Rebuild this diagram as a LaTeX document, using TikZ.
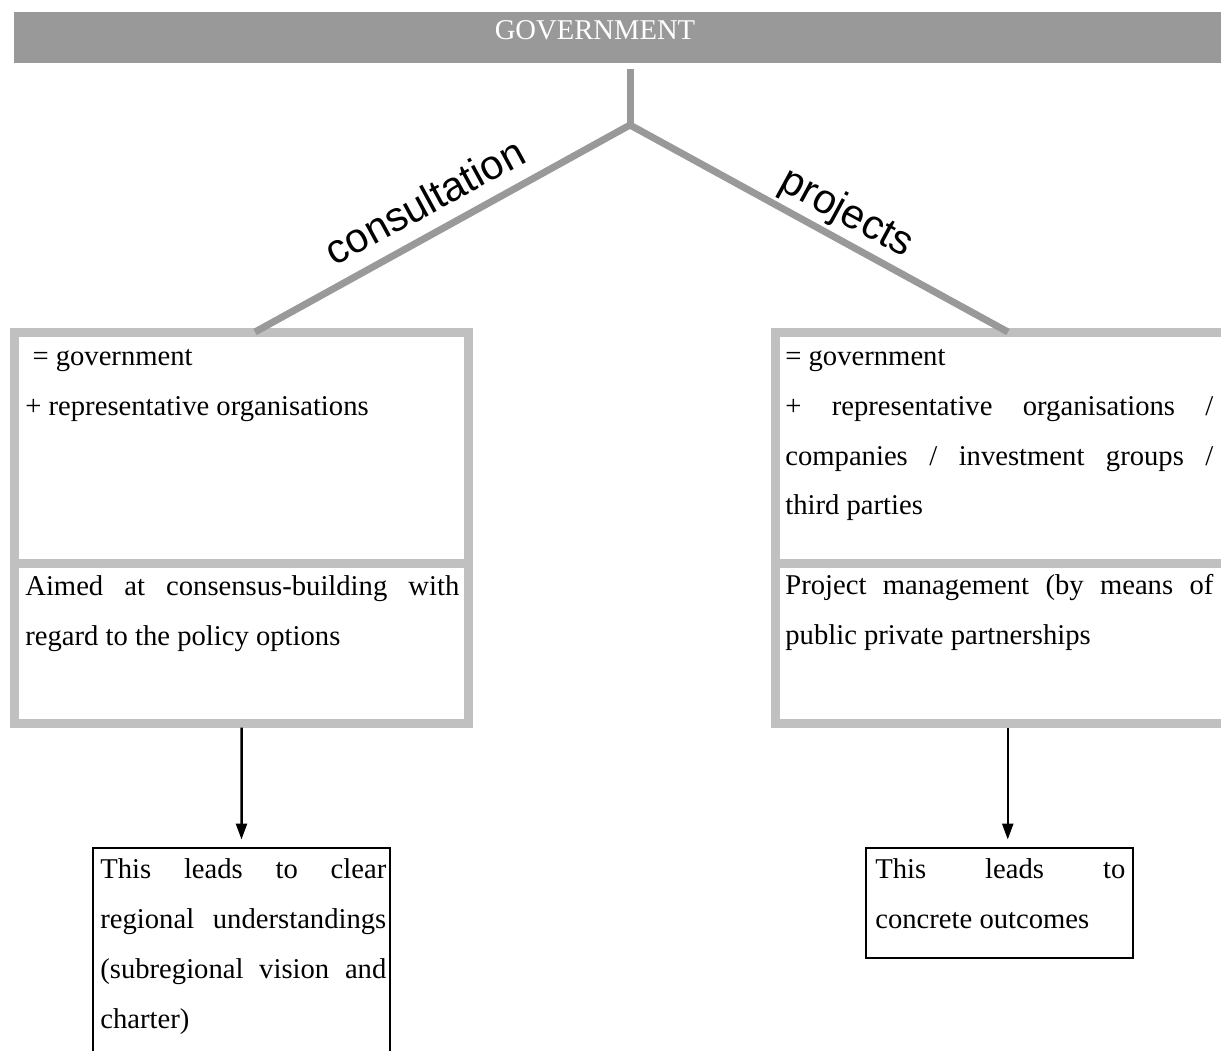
\documentclass[tikz,border=0pt]{standalone}
\usepackage{fontspec}
\setmainfont{Liberation Serif}
\newfontfamily\branchfont{Liberation Sans}
\usepackage{tikz}
\usetikzlibrary{positioning}
\usetikzlibrary{arrows.meta}
\usepackage{xcolor}
\definecolor{bargrey}{HTML}{999999}
\definecolor{framegrey}{HTML}{C0C0C0}
\newcommand{\boxfont}{\fontsize{16.3}{28.45}\selectfont\hyphenpenalty=10000\exhyphenpenalty=10000\tolerance=10000}

\begin{document}
\begin{tikzpicture}[node distance=0cm,
    stemline/.style={draw=bargrey, line width=0.14cm},
    framepart/.style={draw=framegrey, line width=0.18cm, rectangle, inner sep=0pt, outer sep=0pt, minimum width=9.08cm},
    boxtext/.style={anchor=base west, inner sep=0pt, align=justify, font=\boxfont},
    outbox/.style={draw, line width=0.05cm, rectangle, inner sep=0pt, outer sep=0pt},
    branchlabel/.style={anchor=base, inner sep=0pt, font=\branchfont\fontsize{23.5}{23.5}\selectfont},
    leadsto/.style={-{Triangle[length=0.32cm, width=0.22cm]}, line width=0.05cm, shorten <=0.09cm, shorten >=0.17cm}]
    \useasboundingbox (0,0) rectangle (24.42,-21);
    \clip (0,0) rectangle (24.42,-21);

    % Top bar
    \node (gov) [fill=bargrey, rectangle, anchor=north west, minimum width=24.4cm, minimum height=1.02cm, inner sep=0pt] at (0.28,-0.24) {};
    \node (govtext) [anchor=base, text=white, font=\boxfont] at (11.9,-0.79) {GOVERNMENT};

    % Consultation side
    \node (consone) [framepart, minimum height=4.62cm, anchor=north west] at (0.29,-6.64) {};
    \node (constwo) [framepart, minimum height=3.2cm, below=of consone] {};
    \node (consonetext) [boxtext, text width=8.68cm] at (0.5,-7.3) {\ = government\\+ representative organisations};
    \node (constwotext) [boxtext, text width=8.68cm] at (0.5,-11.9) {Aimed at consensus-building with\linebreak regard to the policy options};

    % Projects side
    \node (projone) [framepart, minimum width=9.29cm, minimum height=4.62cm, anchor=north west] at (15.51,-6.64) {};
    \node (projtwo) [framepart, minimum width=9.29cm, minimum height=3.2cm, below=of projone] {};
    \node (projonetext) [boxtext, text width=8.56cm] at (15.7,-7.3) {= government\\+ representative organisations /\linebreak companies / investment groups /\linebreak third parties};
    \node (projtwotext) [boxtext, text width=8.56cm] at (15.7,-11.88) {Project management (by means of\linebreak public private partnerships};

    % Branches from the bar
    \coordinate (fork) at (12.6,-2.5);
    \coordinate (consend) at (5.1,-6.64);
    \coordinate (projend) at (20.16,-6.64);
    \draw[stemline, shorten <=0.1cm] (gov.south -| fork) -- (fork);
    \draw[stemline] (consend) -- (fork) -- (projend);
    \node (conslabel) [branchlabel, rotate=28.6] at (8.63,-4.28) {consultation};
    \node (projlabel) [branchlabel, rotate=-28.5] at (16.82,-4.46) {projects};

    % Outcomes
    \node (consout) [outbox, anchor=north west, minimum width=5.94cm, minimum height=5cm] at (1.86,-16.96) {};
    \node (projout) [outbox, anchor=north west, minimum width=5.34cm, minimum height=2.2cm] at (17.32,-16.96) {};
    \node (consouttext) [boxtext, text width=5.72cm] at (2.0,-17.56) {This leads to clear\linebreak regional understandings\linebreak (subregional vision and\linebreak charter)};
    \node (projouttext) [boxtext, text width=5.0cm] at (17.5,-17.56) {This leads to\linebreak concrete outcomes};
    \draw[leadsto] (constwo.south) -- (consout.north);
    \draw[leadsto] (projtwo.south) -- (projtwo.south |- projout.north);
\end{tikzpicture}
\end{document}
